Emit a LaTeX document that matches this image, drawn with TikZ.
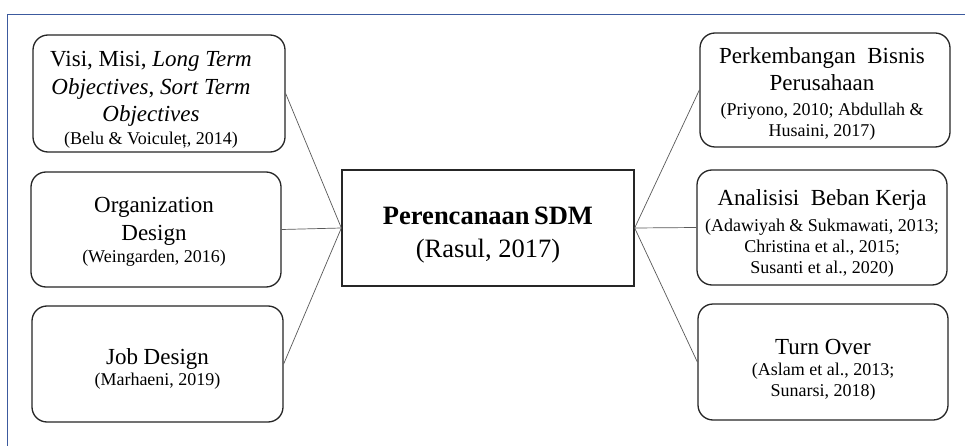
\documentclass[tikz,border=0pt]{standalone}
\usepackage{fontspec}
\setmainfont{Liberation Serif}
\begin{document}
\begin{tikzpicture}[x=1pt,y=-1pt,
  frameline/.style={draw=frameblue,line width=1.6pt},
  topic/.style={draw=black!85,line width=1.3pt,rounded corners=15pt,inner sep=0pt},
  hub/.style={draw=black!85,line width=1.3pt,inner sep=0pt},
  txt/.style={inner sep=0pt,anchor=north,align=center,font=\fontsize{23}{27}\selectfont},
  hubtxt/.style={inner sep=0pt,anchor=north,align=center,font=\fontsize{26.5}{33}\selectfont},
  link/.style={draw=black!65,line width=0.7pt}]
\definecolor{frameblue}{HTML}{3C5A9E}
\newcommand{\cit}[1]{{\fontsize{18}{21}\selectfont #1}}
\useasboundingbox (0,0) rectangle (965,446);
\fill[white] (0,0) rectangle (965,446);

% page frame: top and left rules
\coordinate (fbl) at (7.5,446);
\coordinate (ftl) at (7.5,14.5);
\coordinate (ftr) at (965,14.5);
\draw[frameline] (fbl) -- (ftl) -- (ftr);

% boxes
\node[topic,minimum width=252pt,minimum height=117pt] (l1) at (159,93.5) {};
\node[topic,minimum width=250pt,minimum height=115pt] (l2) at (156,229.5) {};
\node[topic,minimum width=251pt,minimum height=116pt] (l3) at (157.5,364) {};
\node[hub,minimum width=292pt,minimum height=116pt] (c) at (488,228) {};
\node[topic,minimum width=250pt,minimum height=114pt] (r1) at (825,90) {};
\node[topic,minimum width=250pt,minimum height=115pt] (r2) at (822,227.5) {};
\node[topic,minimum width=250pt,minimum height=116pt] (r3) at (823,362) {};

% texts
\node[txt] (l1t) at (151,51) {Visi, Misi, \textit{Long Term}\\[1pt]
  \textit{Objectives}, \textit{Sort Term}\\[0pt]
  \textit{Objectives}\\[-4pt]
  \cit{(Belu \& Voiculeț, 2014)}};
\node[txt] (l2t) at (154,197) {Organization\\[1pt] Design\\[-5pt]
  \cit{(Weingarden, 2016)}};
\node[txt] (l3t) at (157.5,348) {Job Design\\[-6pt] \cit{(Marhaeni, 2019)}};
\node[hubtxt] (ct) at (488,207) {\textbf{Perencanaan\,SDM}\\ (Rasul, 2017)};
\node[txt] (r1t) at (822,47) {Perkembangan\ \ Bisnis\\ Perusahaan\\[-2pt]
  \cit{(Priyono, 2010; Abdullah \&}\\[-6pt] \cit{Husaini, 2017)}};
\node[txt] (r2t) at (822,189) {Analisisi\ \ Beban Kerja\\[-1pt]
  \cit{(Adawiyah \& Sukmawati, 2013;}\\[-6pt]
  \cit{Christina et al., 2015;}\\[-6pt]
  \cit{Susanti et al., 2020)}};
\node[txt] (r3t) at (823,339) {Turn Over\\[-6pt] \cit{(Aslam et al., 2013;}\\[-6pt]
  \cit{Sunarsi, 2018)}};

% connectors
\draw[link] (l1.east) -- (c.west);
\draw[link] (l2.east) -- (c.west);
\draw[link] (l3.east) -- (c.west);
\draw[link] (c.east) -- (r1.west);
\draw[link] (c.east) -- (r2.west);
\draw[link] (c.east) -- (r3.west);
\end{tikzpicture}
\end{document}
